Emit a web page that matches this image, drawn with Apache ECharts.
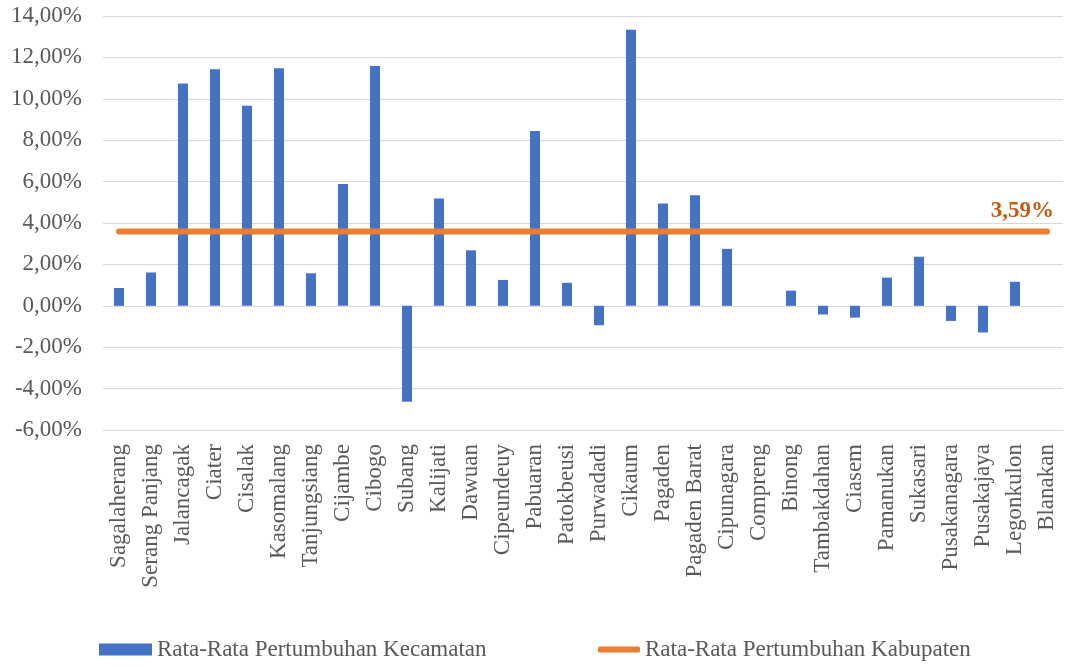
<!DOCTYPE html>
<html>
<head>
<meta charset="utf-8">
<script src="https://cdn.jsdelivr.net/npm/echarts@6/dist/echarts.min.js"></script>
<style>
html,body{margin:0;padding:0;background:#fff;}
#chart{width:1065px;height:667px;}
</style>
</head>
<body>
<div id="chart"></div>
<script>
const categories = ["Sagalaherang","Serang Panjang","Jalancagak","Ciater","Cisalak","Kasomalang","Tanjungsiang","Cijambe","Cibogo","Subang","Kalijati","Dawuan","Cipeundeuy","Pabuaran","Patokbeusi","Purwadadi","Cikaum","Pagaden","Pagaden Barat","Cipunagara","Compreng","Binong","Tambakdahan","Ciasem","Pamanukan","Sukasari","Pusakanagara","Pusakajaya","Legonkulon","Blanakan"];
const kecamatanGrowth = [0.86,1.61,10.74,11.43,9.66,11.47,1.57,5.88,11.58,-4.63,5.18,2.68,1.25,8.45,1.11,-0.94,13.34,4.94,5.34,2.75,0,0.73,-0.42,-0.57,1.36,2.37,-0.73,-1.29,1.16,0];
const kabupatenGrowth = [3.59,3.59,3.59,3.59,3.59,3.59,3.59,3.59,3.59,3.59,3.59,3.59,3.59,3.59,3.59,3.59,3.59,3.59,3.59,3.59,3.59,3.59,3.59,3.59,3.59,3.59,3.59,3.59,3.59,3.59];
const yTicks = {min: -6, max: 14, interval: 2};
const seriesNames = ["Rata-Rata Pertumbuhan Kecamatan", "Rata-Rata Pertumbuhan Kabupaten"];

const FONT = "'Liberation Serif', 'Times New Roman', serif";
const fmt = v => v.toFixed(2).replace('.', ',') + '%';

const chart = echarts.init(document.getElementById('chart'), null, {renderer: 'canvas'});
chart.setOption({
  animation: false,
  backgroundColor: '#fff',
  grid: {left: 103, right: 2, top: 16, bottom: 237, containLabel: false},
  legend: [
    {
      data: [{name: seriesNames[0], icon: 'rect'}],
      left: 94, top: 633, itemWidth: 53, itemHeight: 12, itemGap: 5,
      textStyle: {fontFamily: FONT, fontSize: 23, color: '#595959'}
    },
    {
      data: [{name: seriesNames[1], icon: 'roundRect'}],
      left: 593, top: 633, itemWidth: 42, itemHeight: 6, itemGap: 5,
      textStyle: {fontFamily: FONT, fontSize: 23, color: '#595959'}
    }
  ],
  xAxis: {
    type: 'category',
    data: categories,
    boundaryGap: true,
    axisLine: {onZero: false, lineStyle: {color: '#d9d9d9', width: 1}},
    axisTick: {show: false},
    axisLabel: {rotate: 90, interval: 0, margin: 14, fontFamily: FONT, fontSize: 23, color: '#595959'},
    splitLine: {show: false}
  },
  yAxis: {
    type: 'value',
    min: yTicks.min, max: yTicks.max, interval: yTicks.interval,
    axisLine: {show: false},
    axisTick: {show: false},
    axisLabel: {formatter: fmt, margin: 21, fontFamily: FONT, fontSize: 23, color: '#595959'},
    splitLine: {lineStyle: {color: '#d9d9d9', width: 1}}
  },
  series: [
    {
      name: seriesNames[0],
      type: 'bar',
      data: kecamatanGrowth,
      barWidth: 10,
      itemStyle: {color: '#4472C4'}
    },
    {
      name: seriesNames[1],
      type: 'line',
      data: kabupatenGrowth,
      symbol: 'none',
      itemStyle: {color: '#ED7D31'},
      lineStyle: {color: '#ED7D31', width: 6, cap: 'round'},
      endLabel: {
        show: true,
        formatter: p => fmt(p.value),
        fontFamily: FONT, fontSize: 23, fontWeight: 'bold', color: '#C55A11',
        align: 'right', verticalAlign: 'bottom', distance: 0, offset: [7, -9]
      },
      z: 3
    }
  ]
});
</script>
</body>
</html>
